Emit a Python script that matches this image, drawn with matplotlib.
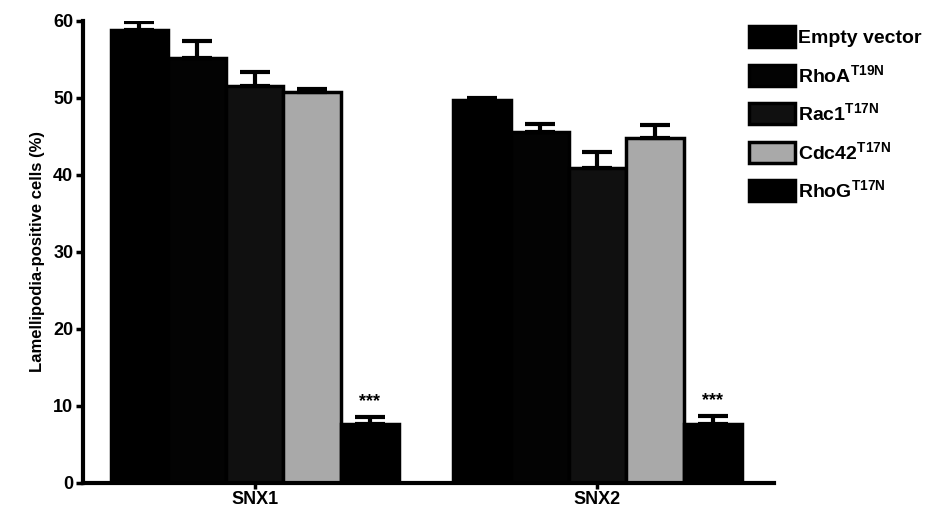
import numpy as np
import matplotlib
matplotlib.use("Agg")
import matplotlib.pyplot as plt

plt.rcParams['font.family'] = ['Liberation Sans', 'DejaVu Sans']
plt.rcParams['font.weight'] = 'bold'
plt.rcParams['mathtext.fontset'] = 'custom'
plt.rcParams['mathtext.rm'] = 'Liberation Sans:bold'
plt.rcParams['mathtext.bf'] = 'Liberation Sans:bold'
plt.rcParams['mathtext.default'] = 'bf'

groups = ['SNX1', 'SNX2']
labels = ['Empty vector', r'RhoA$^{T19N}$', r'Rac1$^{T17N}$', r'Cdc42$^{T17N}$', r'RhoG$^{T17N}$']
means = [
    [58.8, 49.7],   # Empty vector
    [55.2, 45.6],   # RhoA T19N
    [51.6, 40.9],   # Rac1 T17N
    [50.8, 44.8],   # Cdc42 T17N
    [7.6, 7.7],     # RhoG T17N
]
errs = [
    [1.0, 0.3],
    [2.2, 1.0],
    [1.7, 2.1],
    [0.4, 1.7],
    [0.9, 1.0],
]
stars = ['***', '***']

colors = ['#000000', '#030303', '#101010', '#a9a9a9', '#000000']

fig = plt.figure(figsize=(9.44, 5.21), dpi=100)
ax = fig.add_axes([0.088, 0.073, 0.732, 0.887])

x = np.arange(len(groups))
w = 0.168
handles = []
for i in range(len(labels)):
    pos = x + (i - 2) * w
    b = ax.bar(pos, means[i], w, color=colors[i], edgecolor='black', linewidth=2.5,
               label=labels[i], zorder=2)
    ax.errorbar(pos, means[i], yerr=[np.zeros(len(groups)), errs[i]], fmt='none',
                ecolor='black', elinewidth=3, capsize=11, capthick=3, zorder=3)
    handles.append(b)

for j in range(len(groups)):
    ax.text(x[j] + 2 * w, means[4][j] + errs[4][j] + 0.9, stars[j], ha='center',
            va='bottom', fontsize=13, fontweight='bold')

ax.set_ylim(0, 60)
ax.set_xlim(-0.5, 1.515)
ax.set_yticks([0, 10, 20, 30, 40, 50, 60])
ax.set_xticks(x)
ax.set_xticklabels(groups)
ax.tick_params(axis='both', labelsize=13, width=2.5, length=5, direction='out', pad=2)
ax.tick_params(axis='x', length=4)
for t in ax.get_xticklabels() + ax.get_yticklabels():
    t.set_fontweight('bold')
ax.set_ylabel('Lamellipodia-positive cells (%)', fontsize=12, fontweight='bold', labelpad=6)

for s in ['top', 'right']:
    ax.spines[s].set_visible(False)
ax.spines['left'].set_linewidth(3)
ax.spines['bottom'].set_linewidth(3)

leg = fig.legend(handles=handles, labels=labels, loc='upper left',
                 bbox_to_anchor=(0.785, 0.965), frameon=False, fontsize=14,
                 handlelength=2.4, handleheight=1.3, labelspacing=0.85,
                 handletextpad=0.15, borderaxespad=0)
for t in leg.get_texts():
    t.set_fontweight('bold')

fig.savefig('out.png', dpi=100)
